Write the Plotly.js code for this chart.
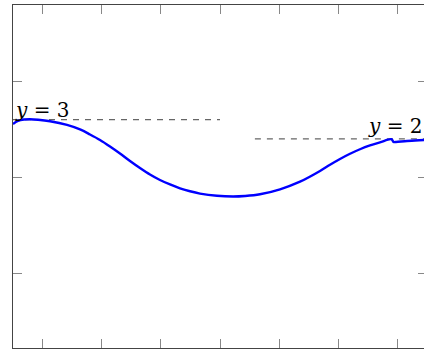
<!DOCTYPE html>
<html>
<head>
<meta charset="utf-8">
<script src="https://cdn.plot.ly/plotly-3.0.1.min.js"></script>
<style>
html,body{margin:0;padding:0;overflow:hidden;background:#fff;}
#chart{width:432px;height:349px;}
</style>
</head>
<body>
<div id="chart"></div>
<script>
// Curve values
const curveX = [-3.500,-3.416,-3.314,-3.213,-3.077,-2.874,-2.587,-2.367,-2.198,-2.029,-1.860,-1.691,-1.522,-1.353,-1.184,-1.015,-0.845,-0.676,-0.507,-0.338,-0.051,0.220,0.423,0.676,1.015,1.353,1.691,1.860,2.029,2.198,2.367,2.536,2.705,2.899,2.934,2.976,3.162,3.449,3.500];
const curveY = [2.774,2.930,3.003,3.019,2.993,2.915,2.722,2.487,2.226,1.940,1.601,1.236,0.845,0.480,0.141,-0.146,-0.381,-0.579,-0.735,-0.855,-0.970,-1.006,-0.980,-0.892,-0.631,-0.235,0.323,0.647,0.949,1.220,1.455,1.653,1.814,1.976,1.835,1.835,1.887,1.940,1.950];

// Asymptote reference lines
const ref3X = [-3.5, 0];
const ref3Y = [3, 3];
const ref2X = [0.59, 3.5];
const ref2Y = [2, 2];

// Labels
const labelTexts = ['<i>y</i> = 3', '<i>y</i> = 2'];

// Ticks
const xTicks = [-3, -2, -1, 0, 1, 2, 3];
const yTicks = [-5, 0, 5];

const dashStyle = {color: '#666', width: 1.2, dash: '6px,6px'};

const data = [
  {x: ref3X, y: ref3Y, mode: 'lines', line: dashStyle, hoverinfo: 'skip'},
  {x: ref2X, y: ref2Y, mode: 'lines', line: dashStyle, hoverinfo: 'skip'},
  {x: curveX, y: curveY, mode: 'lines', line: {color: '#0000ff', width: 2.4, shape: 'spline', smoothing: 1}}
];

const axisCommon = {
  showgrid: false, zeroline: false, showticklabels: false,
  ticks: 'inside', ticklen: 9, tickwidth: 1, tickcolor: '#888',
  showline: true, linecolor: '#444', linewidth: 1, mirror: 'ticks'
};

const layout = {
  width: 432, height: 349,
  margin: {l: 13, r: 5, t: 5, b: 1},
  paper_bgcolor: '#fff', plot_bgcolor: '#fff',
  showlegend: false,
  xaxis: Object.assign({}, axisCommon, {range: [-3.5, 3.5], tickvals: xTicks}),
  yaxis: Object.assign({}, axisCommon, {range: [-8.9, 8.97], tickvals: yTicks}),
  annotations: [
    {x: ref3X[0], y: ref3Y[0], xref: 'x', yref: 'y', text: labelTexts[0], showarrow: false,
     xanchor: 'left', yanchor: 'bottom', xshift: 0, yshift: -4,
     font: {family: 'DejaVu Serif', size: 20, color: '#000'}},
    {x: ref2X[1], y: ref2Y[1], xref: 'x', yref: 'y', text: labelTexts[1], showarrow: false,
     xanchor: 'right', yanchor: 'bottom', xshift: -2, yshift: -1,
     font: {family: 'DejaVu Serif', size: 20, color: '#000'}}
  ]
};

Plotly.newPlot('chart', data, layout, {staticPlot: true, displayModeBar: false});
</script>
</body>
</html>
